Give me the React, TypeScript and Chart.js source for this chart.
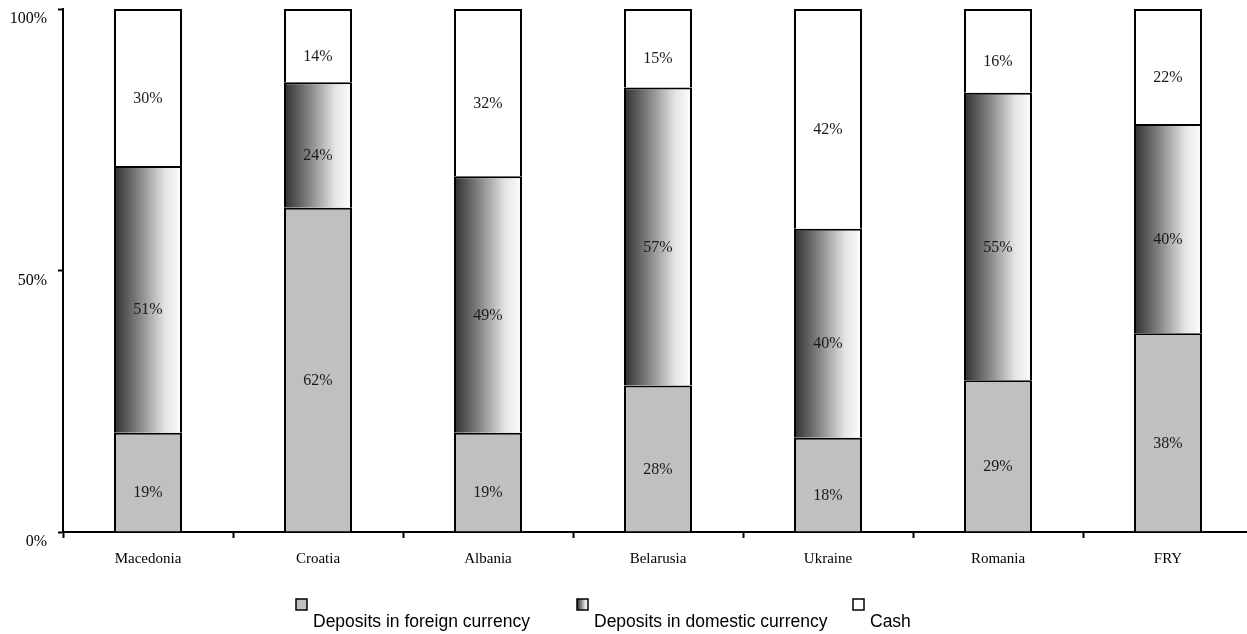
import { useEffect, useRef } from "react";
import { Chart, registerables } from "chart.js";

Chart.register(...registerables);

const categories = ["Macedonia", "Croatia", "Albania", "Belarusia", "Ukraine", "Romania", "FRY"];
const foreignDeposits = [19, 62, 19, 28, 18, 29, 38];
const domesticDeposits = [51, 24, 49, 57, 40, 55, 40];
const cash = [30, 14, 32, 15, 42, 16, 22];
const seriesNames = ["Deposits in foreign currency", "Deposits in domestic currency", "Cash"];
const yTickValues = [0, 50, 100];

const SERIF = "'Liberation Serif', 'Times New Roman', serif";
const SANS = "'Liberation Sans', Arial, sans-serif";
const BAR_RATIO = 0.4;

function makeGradient(c: CanvasRenderingContext2D, x0: number, x1: number) {
  const g = c.createLinearGradient(x0, 0, x1, 0);
  g.addColorStop(0, "#2e2e2e");
  g.addColorStop(0.4, "#8c8c8c");
  g.addColorStop(0.75, "#e4e4e4");
  g.addColorStop(1, "#ffffff");
  return g;
}

const dataLabelPlugin = {
  id: "dataLabels",
  afterDatasetsDraw(chart: any) {
    const c = chart.ctx as CanvasRenderingContext2D;
    c.save();
    c.font = `16px ${SERIF}`;
    c.fillStyle = "#1a1a1a";
    c.textAlign = "center";
    c.textBaseline = "middle";
    chart.data.datasets.forEach((ds: any, di: number) => {
      const meta = chart.getDatasetMeta(di);
      meta.data.forEach((el: any, i: number) => {
        const v = ds.data[i];
        const cy = (el.y + el.base) / 2 + 11;
        c.fillText(`${v}%`, el.x, cy);
      });
    });
    c.restore();
  },
};

const legendPlugin = {
  id: "customLegend",
  afterDraw(chart: any) {
    const c = chart.ctx as CanvasRenderingContext2D;
    const boxX = [296, 577, 853];
    const boxY = 599;
    const box = 11;
    c.save();
    seriesNames.forEach((name, i) => {
      const x = boxX[i];
      if (i === 0) c.fillStyle = "#c0c0c0";
      else if (i === 1) c.fillStyle = makeGradient(c, x, x + box);
      else c.fillStyle = "#ffffff";
      c.fillRect(x, boxY, box, box);
      c.strokeStyle = "#000";
      c.lineWidth = 1.5;
      c.strokeRect(x, boxY, box, box);
      c.fillStyle = "#000";
      c.font = `17.5px ${SANS}`;
      c.textAlign = "left";
      c.textBaseline = "alphabetic";
      c.fillText(name, x + box + 6, 627);
    });
    c.restore();
  },
};

export default function App() {
  const ref = useRef<HTMLCanvasElement | null>(null);

  useEffect(() => {
    if (!ref.current) return;
    const chart = new Chart(ref.current, {
      type: "bar",
      data: {
        labels: categories,
        datasets: [
          {
            label: seriesNames[0],
            data: foreignDeposits,
            backgroundColor: "#c0c0c0",
            borderColor: "#000",
            borderWidth: 2,
            barPercentage: BAR_RATIO,
            categoryPercentage: 1,
          },
          {
            label: seriesNames[1],
            data: domesticDeposits,
            backgroundColor: (ctx: any) => {
              const chart = ctx.chart;
              const xs = chart.scales?.x;
              if (!xs || ctx.dataIndex === undefined) return "#888";
              const cx = xs.getPixelForValue(ctx.dataIndex);
              const w = (xs.width / categories.length) * BAR_RATIO;
              if (!isFinite(cx) || !isFinite(w) || w <= 0) return "#888";
              return makeGradient(chart.ctx, cx - w / 2, cx + w / 2);
            },
            borderColor: "#000",
            borderWidth: 2,
            barPercentage: BAR_RATIO,
            categoryPercentage: 1,
          },
          {
            label: seriesNames[2],
            data: cash,
            backgroundColor: "#ffffff",
            borderColor: "#000",
            borderWidth: 2,
            barPercentage: BAR_RATIO,
            categoryPercentage: 1,
          },
        ],
      },
      options: {
        animation: false,
        responsive: false,
        devicePixelRatio: 1,
        layout: { padding: { left: 0, top: 9, right: 9, bottom: 0 } },
        plugins: {
          legend: { display: false },
          tooltip: { enabled: false },
        },
        scales: {
          x: {
            stacked: true,
            afterFit: (s: any) => {
              s.height = 102;
              s.paddingLeft = 0;
              s.paddingRight = 0;
            },
            grid: {
              offset: true,
              drawOnChartArea: false,
              drawTicks: true,
              tickLength: 6,
              tickWidth: 2,
              tickColor: "#000",
            },
            border: { display: true, color: "#000", width: 2 },
            ticks: {
              color: "#000",
              font: { family: SERIF, size: 15 },
              padding: 12,
              maxRotation: 0,
            },
          },
          y: {
            stacked: true,
            min: 0,
            max: 100,
            afterFit: (s: any) => {
              s.width = 63;
              s.paddingTop = 0;
              s.paddingBottom = 0;
            },
            afterBuildTicks: (s: any) => {
              s.ticks = yTickValues.map((v) => ({ value: v }));
            },
            grid: {
              drawOnChartArea: false,
              drawTicks: true,
              tickLength: 5,
              tickWidth: 2,
              tickColor: "#000",
            },
            border: { display: true, color: "#000", width: 2 },
            ticks: {
              color: "#000",
              font: { family: SERIF, size: 16 },
              padding: 11,
              labelOffset: 10,
              callback: (v: any) => `${v}%`,
            },
          },
        },
      },
      plugins: [dataLabelPlugin, legendPlugin],
    });
    return () => chart.destroy();
  }, []);

  return (
    <div
      style={{
        position: "fixed",
        left: 0,
        top: 0,
        width: 1247,
        height: 634,
        overflow: "hidden",
        background: "#fff",
      }}
    >
      <canvas ref={ref} width={1262} height={634} style={{ display: "block" }} />
    </div>
  );
}
